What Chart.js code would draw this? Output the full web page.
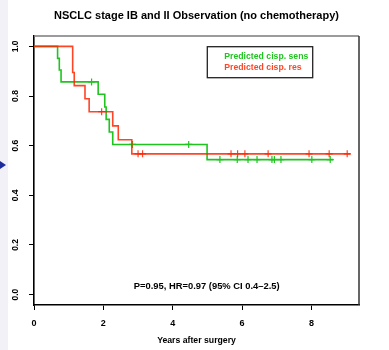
<!DOCTYPE html>
<html><head><meta charset="utf-8">
<script src="https://cdn.jsdelivr.net/npm/chart.js@4/dist/chart.umd.min.js"></script>
<style>html,body{margin:0;padding:0;background:#fff;}canvas{display:block;}</style>
</head><body>
<canvas id="c" width="389" height="350"></canvas>
<script>
// ---- data ----
const titleText = 'NSCLC stage IB and II Observation (no chemotherapy)';
const xAxisTitle = 'Years after surgery';
const annotationText = 'P=0.95, HR=0.97 (95% CI 0.4\u20132.5)';
const seriesNames = ['Predicted cisp. sens', 'Predicted cisp. res'];
const xTickValues = [0, 2, 4, 6, 8];
const yTickValues = [0.0, 0.2, 0.4, 0.6, 0.8, 1.0];

// Kaplan-Meier steps: time where the survival changes, survival after that time
const sensTimes = [0, 0.68, 0.73, 0.78, 1.85, 2.04, 2.08, 2.17, 2.27, 4.99, 8.63];
const sensSurv  = [1.0, 0.952, 0.905, 0.857, 0.807, 0.756, 0.706, 0.655, 0.605, 0.544, 0.544];
const sensCensored = [1.66, 2.84, 4.46, 5.36, 5.86, 6.17, 6.43, 6.86, 6.93, 7.12, 8.01, 8.54];

const resTimes = [0, 1.115, 1.16, 1.47, 1.59, 2.27, 2.43, 2.82, 9.13];
const resSurv  = [1.0, 0.895, 0.842, 0.789, 0.737, 0.680, 0.624, 0.567, 0.567];
const resCensored = [1.95, 3.0, 3.13, 5.68, 5.87, 6.08, 6.75, 7.93, 8.51, 9.03];

// ---- helpers ----
const GREEN = '#1fc41f';
const RED = 'rgba(255,36,0,0.85)';
const FONT = 'Liberation Sans, Arial, Helvetica, sans-serif';

function stepValue(times, surv, t) {
  let v = surv[0];
  for (let i = 0; i < times.length; i++) { if (times[i] <= t) v = surv[i]; }
  return v;
}
const toPts = (times, surv) => times.map((t, i) => ({x: t, y: surv[i]}));
const censorPts = (cens, times, surv) => cens.map(t => ({x: t, y: stepValue(times, surv, t)}));

const decor = {
  id: 'decor',
  beforeDraw(chart) {
    const c = chart.ctx;
    c.save();
    c.fillStyle = '#f1f1f7';
    c.fillRect(0, 0, 8, 350);
    c.fillStyle = '#1c2c9c';
    c.beginPath(); c.moveTo(0, 161); c.lineTo(6, 165); c.lineTo(0, 169); c.closePath(); c.fill();
    c.restore();
  },
  afterDraw(chart) {
    const c = chart.ctx, a = chart.chartArea;
    c.save();
    // plot box top and right
    c.strokeStyle = '#7a7a7a'; c.lineWidth = 1.5;
    c.beginPath(); c.moveTo(a.left, a.top); c.lineTo(a.right, a.top); c.stroke();
    c.strokeStyle = '#333'; 
    c.beginPath(); c.moveTo(a.right, a.top); c.lineTo(a.right, a.bottom); c.stroke();
    // title
    c.fillStyle = '#000';
    c.font = 'bold 11px ' + FONT;
    c.textAlign = 'center'; c.textBaseline = 'middle';
    c.fillText(titleText, 196.5, 16);
    // legend box
    c.strokeStyle = '#222'; c.lineWidth = 1.3;
    c.strokeRect(a.left + 173.3, a.top + 10.7, 105.4, 31);
    c.font = 'bold 8.7px ' + FONT;
    c.textAlign = 'left';
    c.fillStyle = GREEN; c.fillText(seriesNames[0], a.left + 190.3, a.top + 21);
    c.fillStyle = RED; c.fillText(seriesNames[1], a.left + 190.3, a.top + 31.7);
    // annotation
    c.fillStyle = '#000';
    c.font = 'bold 9.4px ' + FONT;
    c.textAlign = 'center';
    c.fillText(annotationText, 206.7, a.bottom - 18.3);
    c.restore();
  }
};

new Chart(document.getElementById('c'), {
  type: 'line',
  data: {
    datasets: [
      {label: seriesNames[0], data: toPts(sensTimes, sensSurv), borderColor: GREEN, borderWidth: 1.6,
       stepped: 'before', pointRadius: 0, fill: false, order: 2},
      {label: seriesNames[1], data: toPts(resTimes, resSurv), borderColor: RED, borderWidth: 1.6,
       stepped: 'before', pointRadius: 0, fill: false, order: 1},
      {label: 'sens censored', data: censorPts(sensCensored, sensTimes, sensSurv), showLine: false,
       pointStyle: 'cross', pointRadius: 3.5, borderColor: GREEN, borderWidth: 1.2, order: 2},
      {label: 'res censored', data: censorPts(resCensored, resTimes, resSurv), showLine: false,
       pointStyle: 'cross', pointRadius: 3.5, borderColor: RED, borderWidth: 1.2, order: 1}
    ]
  },
  options: {
    responsive: false,
    animation: false,
    layout: {padding: {top: 36, right: 30, left: 0, bottom: 0}},
    plugins: {legend: {display: false}, title: {display: false}, tooltip: {enabled: false}},
    scales: {
      x: {
        type: 'linear', min: 0, max: 9.37,
        afterBuildTicks: s => { s.ticks = xTickValues.map(v => ({value: v})); },
        afterFit: s => { s.height = 45; },
        ticks: {color: '#000', font: {family: FONT, size: 9, weight: 'bold'}, padding: 8, maxRotation: 0, includeBounds: false,
                callback: v => String(v)},
        grid: {display: true, drawOnChartArea: false, drawTicks: true, tickLength: 5, color: '#000', lineWidth: 1},
        border: {display: true, color: '#000', width: 1.6},
        title: {display: true, text: xAxisTitle, color: '#000', font: {family: FONT, size: 8.7, weight: 'bold'},
                padding: {top: 0, bottom: 4}}
      },
      y: {
        type: 'linear', min: -0.042, max: 1.042,
        afterBuildTicks: s => { s.ticks = yTickValues.map(v => ({value: v})); },
        afterFit: s => { s.width = 34; },
        ticks: {color: '#000', font: {family: FONT, size: 8.5, weight: 'bold'}, padding: 7, minRotation: 90, maxRotation: 90,
                crossAlign: 'center', includeBounds: false, callback: v => Number(v).toFixed(1)},
        grid: {display: true, drawOnChartArea: false, drawTicks: true, tickLength: 5, color: '#000', lineWidth: 1},
        border: {display: true, color: '#000', width: 1.6}
      }
    }
  },
  plugins: [decor]
});
</script>
</body></html>
